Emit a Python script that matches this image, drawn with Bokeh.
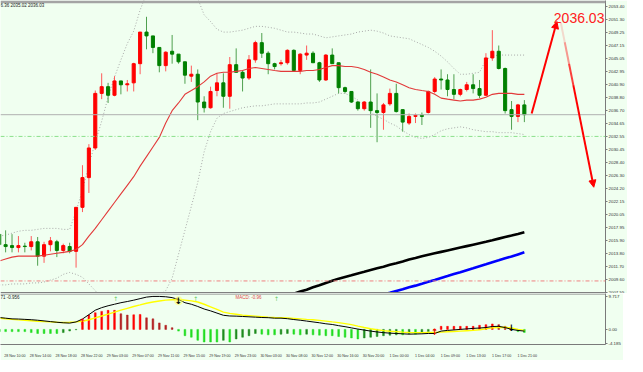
from bokeh.plotting import figure
from bokeh.layouts import column
from bokeh.models import (Range1d, FixedTicker, LinearAxis, BoxAnnotation, Span, Label,
                          Arrow, NormalHead, ColumnDataSource, NumeralTickFormatter)
from bokeh.core.properties import value
from bokeh.embed import file_html
from bokeh.resources import INLINE

# ---------------- data ----------------
bar_index = list(range(-1, 82))
opens = [2016.90, 2015.21, 2015.06, 2014.75, 2014.98, 2014.91, 2015.67, 2013.37, 2015.21, 2015.67, 2014.29,
         2014.91, 2014.14, 2021.19, 2025.95, 2030.70, 2039.44, 2040.52, 2039.14, 2041.44, 2040.82,
         2041.13, 2044.20, 2049.26, 2048.65, 2046.80, 2043.89, 2046.19, 2045.73, 2044.50, 2042.20,
         2042.51, 2038.06, 2037.14, 2039.90, 2041.13, 2038.98, 2044.04, 2042.82, 2041.90, 2044.81,
         2047.57, 2045.88, 2044.20, 2044.20, 2044.35, 2046.34, 2043.12, 2045.58, 2045.88, 2044.35,
         2041.59, 2045.58, 2044.35, 2040.36, 2039.75, 2038.06, 2036.99, 2038.06, 2036.68, 2036.38,
         2037.76, 2039.44, 2036.84, 2034.69, 2035.76, 2035.92, 2036.38, 2039.75, 2041.74, 2041.59,
         2040.06, 2039.29, 2040.06, 2040.82, 2040.21, 2039.14, 2045.12, 2046.19, 2043.43, 2036.84,
         2035.76, 2037.60]
highs = [2017.51, 2017.51, 2016.90, 2016.59, 2015.52, 2016.59, 2016.44, 2015.67, 2016.44, 2015.98, 2015.37,
         2015.52, 2021.19, 2027.94, 2031.31, 2039.90, 2042.66, 2041.13, 2042.20, 2041.44, 2041.59,
         2044.35, 2049.26, 2051.71, 2048.65, 2046.80, 2046.19, 2048.80, 2045.73, 2044.50, 2043.89,
         2043.28, 2038.98, 2040.52, 2042.66, 2042.66, 2045.27, 2046.65, 2043.12, 2045.58, 2047.88,
         2049.11, 2046.19, 2044.35, 2044.81, 2046.50, 2046.50, 2045.88, 2047.11, 2046.19, 2044.50,
         2045.73, 2046.65, 2044.35, 2040.52, 2039.75, 2038.22, 2038.22, 2043.28, 2039.44, 2037.91,
         2040.21, 2040.98, 2036.84, 2036.22, 2036.22, 2036.38, 2039.90, 2042.05, 2043.28, 2042.51,
         2042.51, 2040.21, 2041.28, 2042.51, 2041.59, 2045.88, 2049.57, 2047.11, 2043.58, 2038.22,
         2037.76, 2038.37]
lows = [2014.14, 2013.98, 2013.98, 2013.98, 2013.98, 2014.29, 2011.84, 2012.30, 2014.14, 2013.22, 2013.83,
        2013.83, 2011.53, 2020.43, 2023.49, 2030.39, 2038.52, 2037.91, 2038.98, 2039.29, 2039.75,
        2039.75, 2042.51, 2046.50, 2045.88, 2042.82, 2042.97, 2044.20, 2044.20, 2040.98, 2041.28,
        2035.15, 2036.38, 2036.99, 2038.98, 2037.14, 2036.99, 2042.82, 2039.75, 2041.59, 2044.35,
        2045.12, 2042.51, 2043.28, 2043.89, 2044.04, 2042.97, 2042.51, 2044.81, 2044.35, 2041.28,
        2041.44, 2044.20, 2039.44, 2039.44, 2037.91, 2036.68, 2036.68, 2033.92, 2031.62, 2033.62,
        2037.45, 2036.38, 2033.31, 2034.38, 2034.69, 2034.38, 2036.22, 2039.44, 2040.06, 2038.98,
        2038.52, 2038.98, 2039.75, 2039.44, 2038.68, 2038.98, 2044.66, 2043.28, 2036.22, 2033.62,
        2034.84, 2034.84]
closes = [2015.21, 2014.91, 2014.75, 2015.06, 2014.91, 2015.67, 2013.37, 2015.21, 2015.82, 2014.29, 2015.06,
          2014.14, 2021.19, 2025.95, 2030.70, 2039.44, 2040.52, 2039.14, 2041.44, 2040.82, 2040.98,
          2044.20, 2049.26, 2048.65, 2046.80, 2043.89, 2046.04, 2045.73, 2044.50, 2042.36, 2042.51,
          2038.06, 2037.14, 2039.75, 2041.13, 2038.98, 2044.04, 2042.82, 2041.90, 2044.81, 2047.57,
          2045.88, 2044.20, 2043.74, 2044.35, 2046.34, 2043.12, 2045.73, 2045.88, 2044.35, 2041.59,
          2045.58, 2044.20, 2040.36, 2039.75, 2038.06, 2036.99, 2038.06, 2036.68, 2036.38, 2037.60,
          2039.44, 2036.53, 2034.84, 2035.76, 2035.92, 2035.76, 2039.75, 2041.74, 2041.59, 2040.06,
          2039.29, 2040.06, 2040.82, 2040.21, 2039.14, 2045.12, 2046.19, 2043.43, 2036.68, 2035.76,
          2037.60, 2036.03]
ma_red = [2012.60, 2012.91, 2013.22, 2013.37, 2013.37, 2013.37, 2013.37, 2013.52, 2013.68, 2013.83,
          2013.98, 2014.14, 2014.44, 2015.21, 2016.59, 2017.82, 2019.20, 2020.58, 2021.96, 2023.34,
          2024.72, 2026.10, 2027.79, 2029.32, 2030.85, 2032.39, 2034.69, 2036.68, 2037.91, 2039.29,
          2039.90, 2040.52, 2041.28, 2042.20, 2042.66, 2042.82, 2042.82, 2042.97, 2043.12, 2043.43,
          2043.58, 2043.43, 2043.28, 2043.12, 2042.97, 2042.97, 2042.97, 2042.97, 2043.12, 2043.12,
          2043.28, 2043.58, 2043.89, 2043.89, 2043.74, 2043.74, 2043.58, 2043.28, 2042.82, 2042.51,
          2042.05, 2041.59, 2041.28, 2040.82, 2040.36, 2040.06, 2039.90, 2039.75, 2039.29, 2038.68,
          2038.52, 2038.37, 2038.22, 2038.37, 2038.37, 2038.52, 2038.83, 2039.29, 2039.44, 2039.44,
          2039.44, 2039.29, 2039.29]
bb_upper = [2016.59, 2016.74, 2017.05, 2017.36, 2017.51, 2017.51, 2017.66, 2017.82, 2017.82, 2017.82, 2017.66,
            2017.66, 2020.58, 2023.95, 2027.94, 2031.62, 2034.99, 2038.83, 2042.05, 2044.81, 2047.42,
            2049.41, 2052.79, 2055.39, 2057.08, 2058.15, 2058.61, 2058.61, 2058.15, 2057.08, 2055.55,
            2054.63, 2052.02, 2050.95, 2049.72, 2049.26, 2049.26, 2049.41, 2049.57, 2049.87, 2050.18,
            2050.18, 2050.03, 2049.87, 2049.57, 2049.26, 2049.26, 2049.11, 2048.95, 2048.95, 2048.65,
            2048.34, 2048.49, 2048.65, 2048.80, 2048.95, 2049.26, 2049.41, 2049.57, 2049.41, 2049.11,
            2048.65, 2048.49, 2048.34, 2048.19, 2047.73, 2047.27, 2046.80, 2046.19, 2045.42, 2044.50,
            2043.43, 2042.51, 2042.51, 2042.66, 2042.82, 2044.81, 2045.42, 2045.58, 2045.58, 2045.58,
            2045.58, 2045.58]
bb_lower = [2008.77, 2008.77, 2008.92, 2008.92, 2008.92, 2009.08, 2009.08, 2009.23, 2009.54, 2009.84, 2010.46,
            2010.76, 2010.46, 2009.99, 2008.92, 2007.85, 2006.47, 2005.55, 2004.94, 2004.48, 2004.48,
            2004.94, 2005.55, 2006.32, 2006.78, 2007.08, 2007.85, 2009.84, 2013.68, 2017.51, 2021.35,
            2025.18, 2030.09, 2033.31, 2035.46, 2036.22, 2036.53, 2036.84, 2037.14, 2037.30, 2037.45,
            2037.45, 2037.60, 2037.76, 2037.76, 2037.76, 2037.76, 2037.76, 2037.91, 2037.91, 2038.06,
            2038.52, 2038.98, 2039.44, 2039.44, 2038.98, 2038.37, 2037.45, 2036.38, 2035.76, 2035.30,
            2034.69, 2034.23, 2033.46, 2032.85, 2032.39, 2032.23, 2032.39, 2032.85, 2033.46, 2033.77,
            2033.92, 2034.08, 2033.92, 2033.62, 2033.46, 2033.31, 2033.31, 2033.15, 2033.15, 2033.15,
            2033.00, 2032.85]
ma_black_index = list(range(40, 82))
ma_black = [2005.55, 2005.93, 2006.32, 2006.62, 2007.01, 2007.34, 2007.70, 2008.00, 2008.39, 2008.72,
            2009.08, 2009.43, 2009.77, 2010.04, 2010.30, 2010.61, 2010.87, 2011.15, 2011.42, 2011.68,
            2011.99, 2012.25, 2012.53, 2012.83, 2013.09, 2013.37, 2013.60, 2013.83, 2014.06, 2014.29,
            2014.52, 2014.75, 2014.98, 2015.21, 2015.44, 2015.67, 2015.92, 2016.18, 2016.44, 2016.68,
            2016.93, 2017.20]
ma_blue_index = list(range(56, 82))
ma_blue = [2006.32, 2006.62, 2006.93, 2007.21, 2007.50, 2007.80, 2008.08, 2008.39, 2008.65, 2008.95,
           2009.26, 2009.55, 2009.87, 2010.18, 2010.50, 2010.81, 2011.13, 2011.44, 2011.76, 2012.07,
           2012.39, 2012.70, 2013.02, 2013.32, 2013.65, 2013.98]
macd_hist = [-0.65, -0.65, -0.65, -0.65, -0.65, -0.93, -1.2, -1.2, -1.2, -1.2, -0.93,
             -0.46, -0.1, 2.3, 4.2, 4.9, 5.3, 5.6, 5.6, 4.6, 4.2,
             4.3, 4.4, 3.4, 3.1, 1.9, 1.2, 0.5, -0.5, -1.85, -2.3,
             -3.2, -3.7, -3.7, -3.7, -3.2, -3.7, -2.8, -2.3, -1.85, -1.2,
             -1.4, -1.6, -1.6, -1.4, -1.2, -1.4, -1.6, -1.4, -1.6, -1.7,
             -1.85, -1.85, -2.1, -2.3, -2.5, -2.8, -2.5, -2.3, -2.1, -1.85,
             -1.7, -1.6, -1.6, -1.3, -1.4, -0.9, -0.65, -0.3, 0.9, 0.9,
             0.9, 0.9, 0.9, 0.9, 1.2, 1.4, 1.6, 1.4, 0.9, 0.3,
             -0.65, -0.9]
macd_main = [3.5, 3.3, 3.1, 3.05, 2.95, 2.85, 2.7, 2.5, 2.3, 2.1, 1.95,
             1.85, 2.2, 3.05, 4.35, 5.65, 6.4, 6.95, 7.4, 7.85, 8.2,
             8.6, 9.05, 9.5, 9.7, 9.7, 9.6, 9.35, 8.8, 7.85, 7.4,
             6.75, 6.0, 5.45, 4.8, 4.15, 3.95, 3.9, 3.8, 3.7, 3.6,
             3.5, 3.45, 3.3, 3.3, 3.15, 2.9, 2.7, 2.45, 2.2, 1.95,
             1.65, 1.45, 1.1, 0.8, 0.45, 0.1, -0.2, -0.5, -0.75, -0.95,
             -1.1, -1.2, -1.3, -1.4, -1.35, -1.3, -1.2, -1.2, -0.5, -0.3,
             -0.15, 0.0, 0.15, 0.3, 0.4, 0.55, 0.85, 0.9, 0.55, 0.0,
             -0.3, -0.5]
macd_signal = [3.3, 3.15, 2.95, 2.8, 2.7, 2.55, 2.4, 2.3, 2.2, 2.1, 2.05,
               2.1, 2.2, 2.4, 2.85, 3.4, 3.95, 4.5, 5.1, 5.65, 6.2,
               6.75, 7.2, 7.7, 8.05, 8.35, 8.6, 8.7, 8.8, 8.6, 8.4,
               8.05, 7.4, 6.65, 5.9, 5.1, 4.7, 4.45, 4.2, 4.05, 3.9,
               3.75, 3.6, 3.5, 3.45, 3.35, 3.25, 3.1, 2.95, 2.85, 2.65,
               2.45, 2.2, 2.0, 1.7, 1.4, 0.95, 0.55, 0.2, -0.1, -0.35,
               -0.55, -0.65, -0.8, -0.9, -0.95, -0.95, -0.9, -0.9, -0.8, -0.7,
               -0.6, -0.5, -0.4, -0.3, -0.1, 0.15, 0.45, 0.55, 0.65, 0.4,
               0.0, -0.3]
cross_up_index = [12, 67]
cross_up_value = [2.1, -0.8]
cross_down_index = [27, 79]
cross_down_value = [8.4, 0.3]
signal_up_index = [17.2, 29.7, 42.3]
signal_up_value = [9.0, 9.0, 9.0]

price_ticks = [2053.40, 2051.30, 2049.25, 2047.15, 2045.05, 2042.95, 2040.90, 2038.80, 2036.70,
               2034.65, 2032.55, 2030.45, 2028.40, 2026.30, 2024.20, 2022.15, 2020.05, 2017.95,
               2015.90, 2013.80, 2011.70, 2009.60, 2007.55]
macd_ticks = [9.717, 0.0, -4.185]
macd_tick_labels = ["9.717", "0.00", "-4.185"]
time_label_index = list(range(0, 81, 4))
time_labels = ["28 Nov 10:00", "28 Nov 14:00", "28 Nov 18:00", "28 Nov 22:00", "29 Nov 03:00",
               "29 Nov 07:00", "29 Nov 11:00", "29 Nov 15:00", "29 Nov 19:00", "29 Nov 23:00",
               "30 Nov 03:00", "30 Nov 08:00", "30 Nov 12:00", "30 Nov 16:00", "30 Nov 20:00",
               "1 Dec 00:00", "1 Dec 04:00", "1 Dec 09:00", "1 Dec 13:00", "1 Dec 17:00", "1 Dec 21:00"]

bid_price = 2036.03
support_level = 2032.55
low_level = 2009.40
target_text = "2036.03"
target_pos = (85.6, 2051.56)
arrow_up = (82.14, 2036.22, 86.08, 2050.95)
arrow_down = (86.69, 2050.79, 91.84, 2024.41)
ohlc_text = "6.36 2035.02 2036.03"
macd_text = "MACD: -0.96"
macd_corner_text = "71 -0.956"

# ---------------- style ----------------
BG = "#F0FFF0"
RED = "#FF0000"
GREEN = "#008000"
AXIS = "#7A7A7A"
FONT = "Liberation Sans"
X0, X1 = -0.8, 93.67
Y0, Y1 = 2007.39, 2054.32

p = figure(frame_width=605, frame_height=293, x_range=Range1d(X0, X1), y_range=Range1d(Y0, Y1),
           output_backend="svg", toolbar_location=None, x_axis_location=None,
           y_axis_location="right", min_border_left=0, min_border_right=0,
           min_border_top=0, min_border_bottom=0, background_fill_color=BG,
           border_fill_color=BG, outline_line_color=None)
p.grid.visible = False

# horizontal levels
p.add_layout(Span(location=low_level, dimension="width", line_color="#F08080",
                  line_dash="4 2 1 2", line_width=1))
p.add_layout(Span(location=support_level, dimension="width", line_color="#8BE08B",
                  line_dash="4 2 1 2", line_width=1))
p.add_layout(Span(location=bid_price, dimension="width", line_color="#B0B0B0", line_width=1))

# bands and MAs behind candles
p.line(bar_index, bb_upper, color="#A8A8A8", line_dash="1 2", line_width=1)
p.line(bar_index, bb_lower, color="#A8A8A8", line_dash="1 2", line_width=1)

# candles
up = [i for i in range(len(bar_index)) if closes[i] >= opens[i]]
dn = [i for i in range(len(bar_index)) if closes[i] < opens[i]]
def src(ids):
    return ColumnDataSource(dict(
        x=[bar_index[i] for i in ids],
        top=[max(opens[i], closes[i]) for i in ids],
        bottom=[min(opens[i], closes[i]) for i in ids],
        high=[highs[i] for i in ids],
        low=[lows[i] for i in ids]))
su, sd = src(up), src(dn)
p.segment(x0="x", y0="high", x1="x", y1="low", source=su, line_color="#FF5A5A", line_width=1)
p.segment(x0="x", y0="high", x1="x", y1="low", source=sd, line_color="#4FA04F", line_width=1)
p.vbar(x="x", top="top", bottom="bottom", width=0.48, source=su, fill_color=RED, line_color=RED, line_width=1)
p.vbar(x="x", top="top", bottom="bottom", width=0.48, source=sd, fill_color=GREEN, line_color=GREEN, line_width=1)

p.line(bar_index, ma_red, color="#E23A3A", line_width=1.1)
p.line(ma_black_index, ma_black, color="black", line_width=2.6)
p.line(ma_blue_index, ma_blue, color="#0000FF", line_width=2.6)

# top and bottom bars of the main panel
p.add_layout(BoxAnnotation(bottom=2053.86, fill_color="#A4A4A4", fill_alpha=1, line_alpha=0))
p.add_layout(BoxAnnotation(top=2007.62, fill_color="#808080", fill_alpha=1, line_alpha=0))

# arrows
xs, ys, xe, ye = arrow_up
p.add_layout(Arrow(end=NormalHead(size=7, fill_color=RED, line_color=RED, line_width=1),
                   x_start=xs, y_start=ys, x_end=xe, y_end=ye, line_color=RED, line_width=2))
xs, ys, xe, ye = arrow_down
fr = [0.0, 0.12, 0.25, 0.38]
alphas = [0.15, 0.4, 0.75]
for a, b, al in zip(fr[:-1], fr[1:], alphas):
    p.segment(x0=[xs + (xe - xs) * a], y0=[ys + (ye - ys) * a],
              x1=[xs + (xe - xs) * b], y1=[ys + (ye - ys) * b],
              line_color=RED, line_alpha=al, line_width=2)
p.add_layout(Arrow(end=NormalHead(size=7, fill_color=RED, line_color=RED, line_width=1),
                   x_start=xs + (xe - xs) * fr[-1], y_start=ys + (ye - ys) * fr[-1],
                   x_end=xe, y_end=ye, line_color=RED, line_width=2))

p.add_layout(Label(x=target_pos[0], y=target_pos[1], text=target_text, text_font=FONT,
                   text_font_size="14px", text_color="#FF2020", text_baseline="alphabetic",
                   text_align="left"))
p.add_layout(Label(x=X0, y=2053.50, text=ohlc_text, text_font=FONT, text_font_size="4.5px",
                   text_color="#222222", text_baseline="middle", text_align="left", x_offset=0))

ax = p.yaxis[0]
ax.ticker = FixedTicker(ticks=price_ticks)
ax.formatter = NumeralTickFormatter(format="0.00")
ax.major_label_text_font = FONT
ax.major_label_text_font_size = "4.4px"
ax.major_label_text_color = "#333333"
ax.major_tick_in = 0
ax.major_tick_out = 2
ax.minor_tick_line_color = None
ax.axis_line_color = AXIS
ax.major_tick_line_color = AXIS
ax.major_label_standoff = 1

p.add_layout(Label(x=X1, y=bid_price, text=target_text, text_font=FONT, text_font_size="4.4px",
                   text_color="white", background_fill_color="black", text_baseline="middle",
                   text_align="left", x_offset=1.5))

# ---------------- MACD panel ----------------
p2 = figure(frame_width=605, frame_height=51, x_range=p.x_range, y_range=Range1d(-4.44, 10.56),
            output_backend="svg", toolbar_location=None, x_axis_location=None,
            y_axis_location="right", min_border_left=0, min_border_right=0,
            min_border_top=0, min_border_bottom=0, background_fill_color=BG,
            border_fill_color=BG, outline_line_color=None)
p2.grid.visible = False

cols = []
for i, v in enumerate(macd_hist):
    prev = macd_hist[i - 1] if i > 0 else v
    if v >= 0:
        cols.append("#FF0000" if v >= prev else "#B22222")
    else:
        cols.append("#22DD22" if v <= prev else "#1E8C1E")
p2.vbar(x=bar_index, top=macd_hist, bottom=0, width=0.27, fill_color=cols, line_color=cols, line_width=0.5)
p2.line(bar_index, macd_signal, color="#FFFF00", line_width=1.4)
p2.line(bar_index, macd_main, color="black", line_width=1)

p2.scatter(x=[cross_down_index[0]], y=[cross_down_value[0]], size=9, fill_color="#FFFF66",
           fill_alpha=0.55, line_color=None)
p2.text(x=cross_up_index, y=cross_up_value, text=["\u2191"] * len(cross_up_index),
        text_font=value("DejaVu Sans"), text_font_style="bold", text_font_size="9px",
        text_color=RED, text_align="center", text_baseline="middle")
p2.text(x=cross_down_index, y=cross_down_value, text=["\u2193"] * len(cross_down_index),
        text_font=value("DejaVu Sans"), text_font_style="bold", text_font_size="9px",
        text_color="black", text_align="center", text_baseline="middle")
p2.text(x=signal_up_index, y=signal_up_value, text=["\u2191"] * len(signal_up_index),
        text_font=value("DejaVu Sans"), text_font_size="6px",
        text_color="#66CC66", text_align="center", text_baseline="middle")

p2.add_layout(Label(x=35.9, y=9.44, text=macd_text, text_font=FONT, text_font_size="4.5px",
                    text_color="#E04848", text_baseline="middle", text_align="left"))
p2.add_layout(Label(x=X0, y=9.44, text=macd_corner_text, text_font=FONT, text_font_size="4.5px",
                    text_color="#222222", text_baseline="middle", text_align="left"))
p2.add_layout(BoxAnnotation(bottom=10.25, fill_color="#808080", fill_alpha=1, line_alpha=0))

ay = p2.yaxis[0]
ay.ticker = FixedTicker(ticks=macd_ticks)
ay.major_label_overrides = dict(zip(macd_ticks, macd_tick_labels))
ay.major_label_text_font = FONT
ay.major_label_text_font_size = "4.4px"
ay.major_label_text_color = "#333333"
ay.major_tick_in = 0
ay.major_tick_out = 2
ay.minor_tick_line_color = None
ay.axis_line_color = AXIS
ay.major_tick_line_color = AXIS
ay.major_label_standoff = 1

LBL_SHIFT = 1.45
p2.extra_x_ranges = {"lbl": Range1d(X0 - LBL_SHIFT, X1 - LBL_SHIFT)}
xa = LinearAxis(x_range_name="lbl", ticker=FixedTicker(ticks=time_label_index),
                major_label_overrides=dict(zip(time_label_index, time_labels)))
xa.major_label_text_font = FONT
xa.major_label_text_font_size = "3.6px"
xa.major_label_text_color = "#333333"
xa.major_tick_line_color = None
xa.minor_tick_line_color = None
xa.axis_line_color = AXIS
xa.major_label_standoff = 3
p2.add_layout(xa, "below")

layout = column(p, p2, spacing=0)
open("out.html", "w").write(file_html(layout, INLINE))
